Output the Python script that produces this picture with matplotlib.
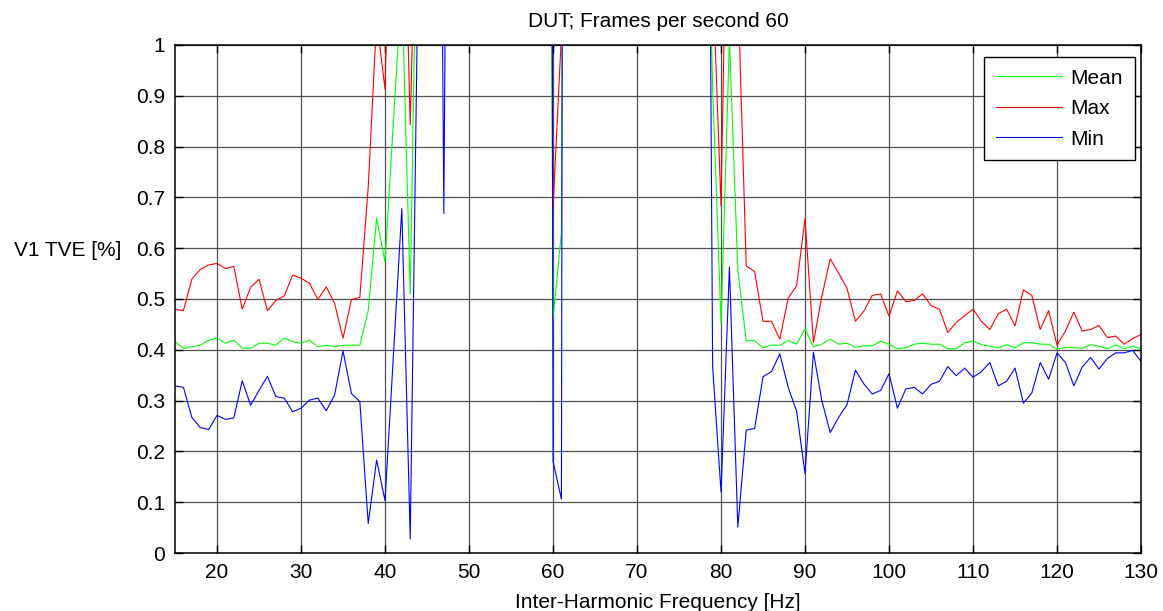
import matplotlib
matplotlib.use('Agg')
import matplotlib.pyplot as plt

# Inter-harmonic frequency, 1 Hz steps
freq = list(range(15, 131))

# values above 1 are off the chart (clipped by the y limit)
mean_tve = [
    0.416, 0.403, 0.406, 0.409, 0.419, 0.423, 0.413, 0.419, 0.403, 0.403,   # 15-24
    0.413, 0.413, 0.409, 0.423, 0.416, 0.413, 0.419, 0.406, 0.409, 0.406,   # 25-34
    0.409, 0.409, 0.409, 0.477, 0.659, 0.573, 0.85, 1.12, 0.51, 1.5,        # 35-44
    2.4, 3.1, 2.8, 3.5, 2.9, 3.3, 2.6, 3.0, 2.7, 3.4,                       # 45-54
    2.5, 3.2, 2.8, 3.6, 4.0, 0.462, 0.631, 5.0, 3.1, 2.7,                   # 55-64
    3.3, 2.9, 3.5, 2.6, 3.0, 3.2, 2.8, 3.4, 2.7, 3.1,                       # 65-74
    2.9, 2.6, 2.2, 1.6, 0.92, 0.452, 1.01, 0.557, 0.418, 0.418,             # 75-84
    0.404, 0.409, 0.409, 0.418, 0.411, 0.441, 0.406, 0.411, 0.421, 0.411,   # 85-94
    0.413, 0.405, 0.408, 0.408, 0.417, 0.411, 0.402, 0.404, 0.411, 0.413,   # 95-104
    0.411, 0.411, 0.402, 0.402, 0.414, 0.417, 0.410, 0.407, 0.404, 0.410,   # 105-114
    0.404, 0.414, 0.414, 0.411, 0.411, 0.401, 0.405, 0.404, 0.403, 0.410,   # 115-124
    0.407, 0.402, 0.410, 0.402, 0.407, 0.402,                               # 125-130
]

max_tve = [
    0.480, 0.477, 0.539, 0.558, 0.567, 0.570, 0.560, 0.564, 0.480, 0.523,   # 15-24
    0.539, 0.477, 0.497, 0.506, 0.547, 0.541, 0.531, 0.499, 0.524, 0.491,   # 25-34
    0.423, 0.499, 0.503, 0.72, 1.05, 0.913, 1.6, 1.5, 0.843, 1.5,           # 35-44
    3.0, 3.6, 3.2, 3.9, 3.4, 3.7, 3.1, 3.5, 3.3, 3.8,                       # 45-54
    3.0, 3.6, 3.4, 3.9, 5.0, 0.678, 1.02, 4.0, 3.5, 3.2,                    # 55-64
    3.8, 3.3, 3.9, 3.1, 3.5, 3.7, 3.2, 3.8, 3.3, 3.6,                       # 65-74
    3.4, 3.0, 2.6, 2.0, 1.14, 0.684, 1.6, 1.12, 0.565, 0.554,               # 75-84
    0.456, 0.456, 0.421, 0.502, 0.526, 0.658, 0.414, 0.505, 0.579, 0.551,   # 85-94
    0.521, 0.456, 0.476, 0.507, 0.510, 0.466, 0.516, 0.495, 0.497, 0.510,   # 95-104
    0.487, 0.480, 0.434, 0.454, 0.467, 0.480, 0.456, 0.440, 0.471, 0.480,   # 105-114
    0.447, 0.518, 0.507, 0.440, 0.477, 0.409, 0.437, 0.474, 0.437, 0.440,   # 115-124
    0.448, 0.424, 0.427, 0.411, 0.422, 0.430,                               # 125-130
]

min_tve = [
    0.329, 0.326, 0.267, 0.247, 0.243, 0.271, 0.263, 0.266, 0.339, 0.291,   # 15-24
    0.320, 0.348, 0.308, 0.305, 0.278, 0.285, 0.301, 0.305, 0.280, 0.311,   # 25-34
    0.398, 0.314, 0.298, 0.058, 0.183, 0.103, 0.39, 0.678, 0.028, 1.23,     # 35-44
    2.5, 3.0, 0.668, 3.0, 2.6, 2.9, 2.4, 2.8, 2.5, 3.0,                     # 45-54
    2.3, 2.7, 2.6, 3.1, 10.0, 0.181, 0.106, 10.0, 3.0, 2.6,                 # 55-64
    2.9, 2.5, 3.1, 2.4, 2.8, 3.0, 2.6, 2.9, 2.5, 2.8,                       # 65-74
    2.7, 3.0, 3.2, 3.0, 0.367, 0.120, 0.563, 0.051, 0.242, 0.245,           # 75-84
    0.347, 0.357, 0.392, 0.326, 0.279, 0.156, 0.395, 0.300, 0.237, 0.267,   # 85-94
    0.292, 0.360, 0.333, 0.313, 0.320, 0.353, 0.285, 0.323, 0.326, 0.313,   # 95-104
    0.332, 0.338, 0.367, 0.349, 0.364, 0.346, 0.357, 0.375, 0.329, 0.338,   # 105-114
    0.364, 0.295, 0.315, 0.375, 0.342, 0.394, 0.375, 0.329, 0.366, 0.385,   # 115-124
    0.362, 0.383, 0.394, 0.394, 0.399, 0.377,                               # 125-130
]

xticks = list(range(20, 131, 10))
yticks = [0, 0.1, 0.2, 0.3, 0.4, 0.5, 0.6, 0.7, 0.8, 0.9, 1]
ytick_labels = ['0', '0.1', '0.2', '0.3', '0.4', '0.5', '0.6', '0.7', '0.8', '0.9', '1']

plt.rcParams['font.family'] = ['Liberation Sans', 'DejaVu Sans']
plt.rcParams['font.size'] = 15

fig = plt.figure(figsize=(11.63, 6.11), dpi=100)
ax = fig.add_axes([0.1505, 0.0949, 0.8306, 0.8315])

ax.plot(freq, mean_tve, color='#00ff00', lw=0.8, label='Mean')
ax.plot(freq, max_tve, color='#ff0000', lw=0.8, label='Max')
ax.plot(freq, min_tve, color='#0000ff', lw=0.8, label='Min')

ax.set_xlim(15, 130)
ax.set_ylim(0, 1)
ax.set_xticks(xticks)
ax.set_yticks(yticks)
ax.set_yticklabels(ytick_labels)
ax.grid(True, color='#505050', lw=0.9, ls='-')
ax.set_axisbelow(True)
ax.tick_params(direction='in', top=True, right=True, length=6, width=1,
               labelsize=15, pad=7)
for sp in ax.spines.values():
    sp.set_linewidth(1.1)
    sp.set_color('black')

ax.set_title('DUT; Frames per second 60', fontsize=15, pad=13)
ax.set_xlabel('Inter-Harmonic Frequency [Hz]', fontsize=15, labelpad=8)
ax.set_ylabel('V1 TVE [%]', fontsize=15, rotation=0, ha='center', va='center')
ax.yaxis.set_label_coords(-0.111, 0.596)

leg = ax.legend(loc='upper right', bbox_to_anchor=(0.9933, 0.976),
                borderaxespad=0, fancybox=False, framealpha=1,
                edgecolor='black', fontsize=15, handlelength=3.2,
                handletextpad=0.4, labelspacing=0.55, borderpad=0.55)
leg.get_frame().set_linewidth(1.0)

fig.savefig('out.png', dpi=100)
plt.close(fig)
